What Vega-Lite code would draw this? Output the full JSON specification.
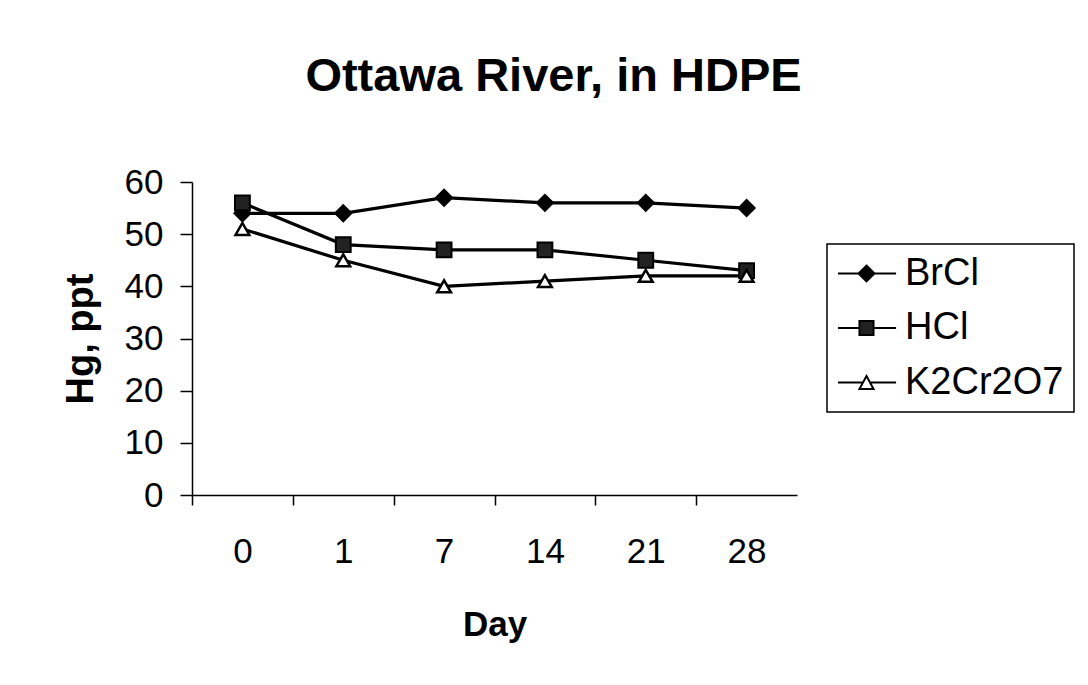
{
  "$schema": "https://vega.github.io/schema/vega-lite/v6.json",
  "width": 605,
  "height": 313,
  "autosize": {"type": "none"},
  "padding": {"left": 192, "top": 182, "right": 291, "bottom": 190},
  "background": "white",
  "title": {
    "text": "Ottawa River, in HDPE",
    "font": "Liberation Sans",
    "fontSize": 47,
    "fontWeight": "bold",
    "color": "black",
    "anchor": "middle",
    "dx": 59,
    "offset": 64
  },
  "config": {
    "view": {"stroke": null},
    "font": "Liberation Sans",
    "legend": {
      "orient": "none",
      "legendX": 635,
      "legendY": 62,
      "strokeColor": "black",
      "strokeWidth": 1.5,
      "padding": 10,
      "fillColor": "white"
    }
  },
  "data": {
    "values": [
      {"day": 0, "series": "BrCl", "value": 54},
      {"day": 1, "series": "BrCl", "value": 54},
      {"day": 7, "series": "BrCl", "value": 57},
      {"day": 14, "series": "BrCl", "value": 56},
      {"day": 21, "series": "BrCl", "value": 56},
      {"day": 28, "series": "BrCl", "value": 55},
      {"day": 0, "series": "HCl", "value": 56},
      {"day": 1, "series": "HCl", "value": 48},
      {"day": 7, "series": "HCl", "value": 47},
      {"day": 14, "series": "HCl", "value": 47},
      {"day": 21, "series": "HCl", "value": 45},
      {"day": 28, "series": "HCl", "value": 43},
      {"day": 0, "series": "K2Cr2O7", "value": 51},
      {"day": 1, "series": "K2Cr2O7", "value": 45},
      {"day": 7, "series": "K2Cr2O7", "value": 40},
      {"day": 14, "series": "K2Cr2O7", "value": 41},
      {"day": 21, "series": "K2Cr2O7", "value": 42},
      {"day": 28, "series": "K2Cr2O7", "value": 42}
    ]
  },
  "encoding": {
    "x": {
      "field": "day",
      "type": "ordinal",
      "sort": [0, 1, 7, 14, 21, 28],
      "scale": {"type": "point", "padding": 0.5},
      "axis": {
        "title": "Day",
        "titleFont": "Liberation Sans",
        "titleFontSize": 35,
        "titleFontWeight": "bold",
        "titleColor": "black",
        "titlePadding": 38,
        "labelFont": "Liberation Sans",
        "labelFontSize": 35,
        "labelColor": "black",
        "labelAngle": 0,
        "labelPadding": 29,
        "tickOffset": -50.4,
        "labelOffset": 50.4,
        "tickSize": 10,
        "tickColor": "black",
        "tickWidth": 1.5,
        "domainColor": "black",
        "domainWidth": 1.5,
        "grid": false
      }
    },
    "y": {
      "field": "value",
      "type": "quantitative",
      "scale": {"domain": [0, 60], "nice": false},
      "axis": {
        "title": "Hg, ppt",
        "titleFont": "Liberation Sans",
        "titleFontSize": 38,
        "titleFontWeight": "bold",
        "titleColor": "black",
        "titlePadding": 24,
        "values": [0, 10, 20, 30, 40, 50, 60],
        "labelFont": "Liberation Sans",
        "labelFontSize": 35,
        "labelColor": "black",
        "labelPadding": 17,
        "tickSize": 12,
        "tickColor": "black",
        "tickWidth": 1.5,
        "domainColor": "black",
        "domainWidth": 1.5,
        "grid": false
      }
    }
  },
  "layer": [
    {
      "mark": {"type": "line", "color": "black", "strokeWidth": 3.2},
      "encoding": {"detail": {"field": "series"}}
    },
    {
      "transform": [{"filter": "datum.series === 'BrCl'"}],
      "mark": {"type": "point", "shape": "diamond", "filled": true, "fill": "black", "stroke": "black", "strokeWidth": 2, "size": 260, "opacity": 1}
    },
    {
      "transform": [{"filter": "datum.series === 'HCl'"}],
      "mark": {"type": "point", "shape": "square", "filled": true, "fill": "#222222", "stroke": "black", "strokeWidth": 2, "size": 220, "opacity": 1}
    },
    {
      "transform": [{"filter": "datum.series === 'K2Cr2O7'"}],
      "mark": {"type": "point", "shape": "triangle-up", "filled": true, "fill": "white", "stroke": "black", "strokeWidth": 2.5, "size": 190, "opacity": 1}
    },
    {
      "mark": {"type": "point", "filled": true, "stroke": "black", "strokeWidth": 2, "opacity": 0},
      "encoding": {
        "shape": {
          "field": "series",
          "scale": {
            "domain": ["BrCl", "HCl", "K2Cr2O7"],
            "range": [
              "M-1,0H0.11M0.97,0H2.14M0.54,-0.43L0.97,0L0.54,0.43L0.11,0Z",
              "M-1,0H0.16M0.92,0H2.14M0.16,-0.38H0.92V0.38H0.16Z",
              "M-1,0H0.35M0.73,0H2.14M0.54,-0.35L0.92,0.35H0.16Z"
            ]
          },
          "legend": {
            "title": null,
            "symbolSize": 1369,
            "symbolOpacity": 1,
            "symbolStrokeColor": "black",
            "symbolStrokeWidth": 2,
            "labelFont": "Liberation Sans",
            "labelFontSize": 38,
            "labelColor": "black",
            "labelOffset": 29,
            "rowPadding": 15.5,
            "labelLimit": 400,
            "encode": {"symbols": {"update": {"stroke": {"value": "black"}, "strokeWidth": {"value": 2}, "opacity": {"value": 1}}}}
          }
        },
        "fill": {
          "field": "series",
          "scale": {"domain": ["BrCl", "HCl", "K2Cr2O7"], "range": ["black", "#222222", "white"]},
          "legend": {
            "title": null,
            "symbolSize": 1369,
            "symbolOpacity": 1,
            "symbolStrokeColor": "black",
            "symbolStrokeWidth": 2,
            "labelFont": "Liberation Sans",
            "labelFontSize": 38,
            "labelColor": "black",
            "labelOffset": 29,
            "rowPadding": 15.5,
            "labelLimit": 400,
            "encode": {"symbols": {"update": {"stroke": {"value": "black"}, "strokeWidth": {"value": 2}, "opacity": {"value": 1}}}}
          }
        }
      }
    }
  ]
}
